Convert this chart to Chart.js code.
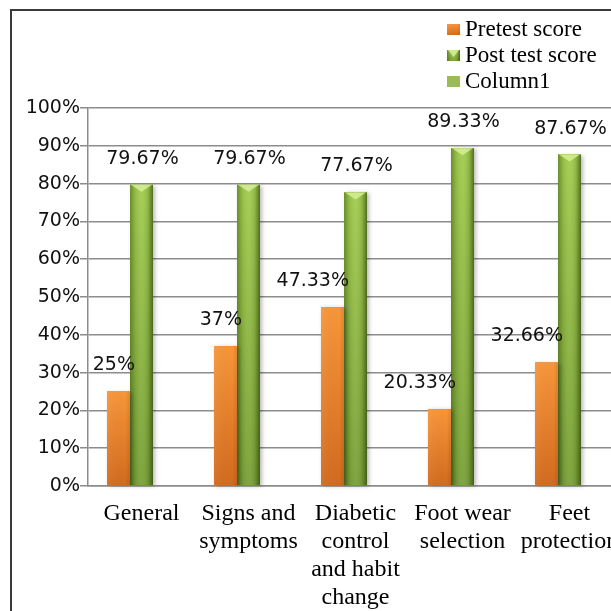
<!DOCTYPE html>
<html>
<head>
<meta charset="utf-8">
<script src="https://cdn.jsdelivr.net/npm/chart.js@4.4.1/dist/chart.umd.min.js"></script>
<style>
  html, body { margin: 0; padding: 0; background: #fff; overflow: hidden; width: 611px; height: 611px; }
  #frame { position: absolute; left: 10px; top: 9px; width: 700px; height: 700px;
           border-left: 2px solid #3a3a3a; border-top: 2px solid #3a3a3a; }
  #wrap { position: absolute; left: 0; top: 0; width: 640px; height: 640px; }
</style>
</head>
<body>
<div id="frame"></div>
<div id="wrap"><canvas id="chart"></canvas></div>
<script>
// Knowledge score per domain, before and after the programme
const categories = [
  ['General'],
  ['Signs and', 'symptoms'],
  ['Diabetic', 'control', 'and habit', 'change'],
  ['Foot wear', 'selection'],
  ['Feet', 'protection']
];
const seriesNames = ['Pretest score', 'Post test score', 'Column1'];
const pretestScores = [25, 37, 47.33, 20.33, 32.66];
const posttestScores = [79.67, 79.67, 77.67, 89.33, 87.67];
const column1Values = [null, null, null, null, null];
const yTickValues = [0, 10, 20, 30, 40, 50, 60, 70, 80, 90, 100];
const yTickLabels = ['0%', '10%', '20%', '30%', '40%', '50%', '60%', '70%', '80%', '90%', '100%'];

const SERIF = '"Liberation Serif", "Times New Roman", serif';
const SANS = '"DejaVu Sans", Verdana, sans-serif';

function fmtPct(v) { return String(v) + '%'; }

// Orange bars: vertical gradient, lighter at the top
function paintOrange(ctx, x0, x1, top, base) {
  const g = ctx.createLinearGradient(0, top, 0, base);
  g.addColorStop(0, '#f8963a');
  g.addColorStop(1, '#d26b1e');
  ctx.fillStyle = g;
  ctx.fillRect(x0, top, x1 - x0, base - top);
  const h = ctx.createLinearGradient(x0, 0, x1, 0);
  h.addColorStop(0, 'rgba(255,255,255,0.05)');
  h.addColorStop(0.8, 'rgba(0,0,0,0)');
  h.addColorStop(1, 'rgba(90,30,0,0.12)');
  ctx.fillStyle = h;
  ctx.fillRect(x0, top, x1 - x0, base - top);
}

// Green bars: rounded-looking column with a bevelled top
function paintGreen(ctx, x0, x1, top, base) {
  const w = x1 - x0;
  const g = ctx.createLinearGradient(0, top, 0, base);
  g.addColorStop(0, '#a1cc4e');
  g.addColorStop(1, '#78a036');
  ctx.fillStyle = g;
  ctx.fillRect(x0, top, w, base - top);
  const h = ctx.createLinearGradient(x0, 0, x1, 0);
  h.addColorStop(0, 'rgba(45,65,10,0.45)');
  h.addColorStop(0.22, 'rgba(45,65,10,0.12)');
  h.addColorStop(0.5, 'rgba(255,255,255,0.05)');
  h.addColorStop(0.78, 'rgba(45,65,10,0.15)');
  h.addColorStop(1, 'rgba(30,45,5,0.6)');
  ctx.fillStyle = h;
  ctx.fillRect(x0, top, w, base - top);
  const xc = (x0 + x1) / 2;
  ctx.beginPath();
  ctx.moveTo(x0 + 1, top);
  ctx.lineTo(x1 - 1, top);
  ctx.lineTo(xc, top + 7);
  ctx.closePath();
  ctx.fillStyle = 'rgba(214,238,150,0.85)';
  ctx.fill();
}

const barShading = {
  id: 'barShading',
  afterDatasetDraw(chart, args) {
    const idx = args.index;
    if (idx > 1) return;
    const ctx = chart.ctx;
    ctx.save();
    args.meta.data.forEach(el => {
      const p = el.getProps(['x', 'y', 'base', 'width'], true);
      if (p.y == null || isNaN(p.y)) return;
      const x0 = p.x - p.width / 2, x1 = p.x + p.width / 2;
      ctx.save();
      ctx.shadowColor = 'rgba(0,0,0,0.28)';
      ctx.shadowBlur = 4;
      ctx.shadowOffsetX = 2;
      ctx.shadowOffsetY = 1;
      ctx.fillStyle = idx === 0 ? '#e58029' : '#86ad3e';
      ctx.fillRect(x0, p.y, p.width, p.base - p.y);
      ctx.restore();
      if (idx === 0) paintOrange(ctx, x0, x1, p.y, p.base);
      else paintGreen(ctx, x0, x1, p.y, p.base);
    });
    ctx.restore();
  }
};

const valueLabels = {
  id: 'valueLabels',
  afterDatasetsDraw(chart) {
    const ctx = chart.ctx;
    ctx.save();
    ctx.font = '19px ' + SANS;
    ctx.fillStyle = '#111';
    ctx.textBaseline = 'middle';
    [0, 1].forEach(di => {
      const meta = chart.getDatasetMeta(di);
      const values = chart.data.datasets[di].data;
      meta.data.forEach((el, i) => {
        const p = el.getProps(['x', 'y', 'width'], true);
        const text = fmtPct(values[i]);
        if (di === 0) {
          ctx.textAlign = 'right';
          ctx.fillText(text, p.x + p.width / 2 + 5, p.y - 26);
        } else {
          ctx.textAlign = 'center';
          ctx.fillText(text, p.x + 1, p.y - 26);
        }
      });
    });
    ctx.restore();
  }
};

const stackedLegend = {
  id: 'stackedLegend',
  afterDraw(chart) {
    const ctx = chart.ctx;
    ctx.save();
    ctx.font = '23px ' + SERIF;
    ctx.fillStyle = '#000';
    ctx.textBaseline = 'alphabetic';
    ctx.textAlign = 'left';
    chart.data.datasets.forEach((ds, i) => {
      const rowBase = 36 + i * 26;
      const mx = 447, my = rowBase - 12, mw = 13, mh = 11;
      if (i === 0) {
        paintOrange(ctx, mx, mx + mw, my, my + mh);
      } else if (i === 1) {
        paintGreen(ctx, mx, mx + mw, my, my + mh);
      } else {
        ctx.fillStyle = ds.backgroundColor;
        ctx.fillRect(mx, my, mw, mh);
      }
      ctx.fillStyle = '#000';
      ctx.fillText(ds.label, 465, rowBase);
    });
    ctx.restore();
  }
};

new Chart(document.getElementById('chart'), {
  type: 'bar',
  data: {
    labels: categories,
    datasets: [
      { label: seriesNames[0], data: pretestScores, backgroundColor: '#e58029', borderWidth: 0 },
      { label: seriesNames[1], data: posttestScores, backgroundColor: '#86ad3e', borderWidth: 0 },
      { label: seriesNames[2], data: column1Values, backgroundColor: '#9bbb59', borderWidth: 0 }
    ]
  },
  options: {
    responsive: true,
    maintainAspectRatio: false,
    animation: false,
    devicePixelRatio: 1,
    layout: { padding: { left: 0, top: 108, right: 17, bottom: 0 } },
    datasets: { bar: { barPercentage: 1, categoryPercentage: 0.645 } },
    plugins: { legend: { display: false }, tooltip: { enabled: false } },
    scales: {
      x: {
        grid: { display: false },
        border: { display: true, color: '#8c8c8c', width: 1.5 },
        ticks: {
          color: '#000',
          font: { family: SERIF, size: 24, lineHeight: 28 / 24 },
          padding: 6,
          maxRotation: 0,
          autoSkip: false
        },
        afterFit(scale) { scale.height = 154; }
      },
      y: {
        min: 0,
        max: 100,
        afterBuildTicks(scale) { scale.ticks = yTickValues.map(v => ({ value: v })); },
        grid: { color: '#8c8c8c', lineWidth: 1.5, drawTicks: true, tickLength: 8 },
        border: { display: true, color: '#8c8c8c', width: 1.5 },
        ticks: {
          color: '#111',
          font: { family: SANS, size: 19 },
          padding: 0,
          callback: (v) => yTickLabels[yTickValues.indexOf(v)]
        },
        afterFit(scale) { scale.width = 88; }
      }
    }
  },
  plugins: [barShading, valueLabels, stackedLegend]
});
</script>
</body>
</html>
